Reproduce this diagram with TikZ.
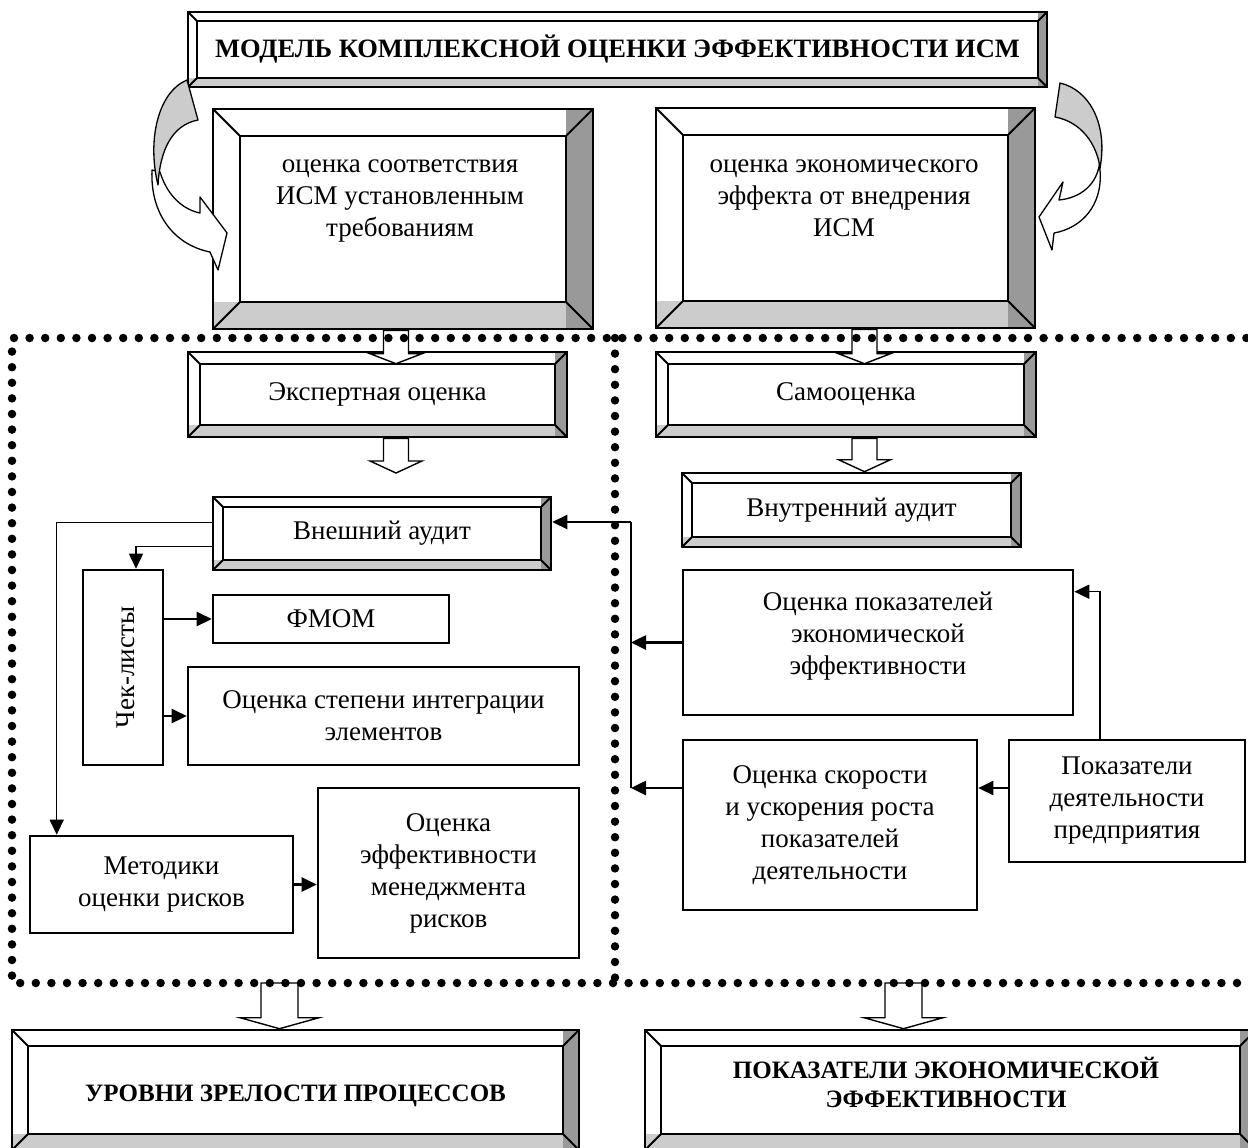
\documentclass[tikz,border=0pt]{standalone}
\usepackage{fontspec}
\setmainfont{Liberation Serif}
\usetikzlibrary{arrows.meta,calc}
\definecolor{bevlight}{HTML}{CCCCCC}
\definecolor{bevdark}{HTML}{999999}

\begin{document}
\begin{tikzpicture}[x=1pt,y=-1pt,
	bevel/.style={draw,line width=2.6pt,fill=white,inner sep=0pt,align=center,
		font={\fontsize{27}{32}\selectfont},
		path picture={
			\fill[bevlight] (path picture bounding box.south west) rectangle ([xshift=-#1,yshift=#1]path picture bounding box.south east);
			\fill[bevdark] ([xshift=-#1]path picture bounding box.north east) rectangle (path picture bounding box.south east);
			\draw[black,line width=2.6pt] ([xshift=#1,yshift=-#1]path picture bounding box.north west) rectangle ([xshift=-#1,yshift=#1]path picture bounding box.south east);
			\draw[black,line width=2pt] (path picture bounding box.north west) -- ++(#1,-#1)
				(path picture bounding box.north east) -- ++(-#1,-#1)
				(path picture bounding box.south west) -- ++(#1,#1)
				(path picture bounding box.south east) -- ++(-#1,#1);
		}},
	bevel/.default=10pt,
	simplebox/.style={draw,line width=2.6pt,fill=white,inner sep=0pt,align=center,font={\fontsize{27}{32}\selectfont}},
	bodytext/.style={inner sep=0pt,align=center,font={\fontsize{27}{32}\selectfont}},
	headtext/.style={inner sep=0pt,align=center,font={\fontsize{25}{29}\selectfont\bfseries}},
	conn/.style={line width=2.6pt,-{Triangle[length=15pt,width=14pt]}},
	route/.style={line width=1.5pt,-{Triangle[length=15pt,width=14pt]}},
	dotline/.style={line width=8.5pt,line cap=round,dash pattern=on 0pt off 15.6pt},
	curvefront/.style={draw,fill=white,line width=1.3pt,line join=round},
	curveback/.style={draw,fill=bevlight,line width=1.3pt,line join=round},
	hollowdown/.style n args={3}{draw,fill=white,line width=1.4pt,
		to path={let \p1=(\tikztostart),\p2=(\tikztotarget) in
			(\x1-#1,\y1) -- (\x1-#1,\y2+#3) -- (\x1-#2,\y2+#3) -- (\x2,\y2)
			-- (\x1+#2,\y2+#3) -- (\x1+#1,\y2+#3) -- (\x1+#1,\y1) -- cycle}}]
	\useasboundingbox (0,0) rectangle (1248,1148);

	% top level
	\node[bevel=9pt,minimum width=859,minimum height=75,font={\fontsize{26.5}{30}\selectfont\bfseries}] (title) at (617.5,49.5) {МОДЕЛЬ КОМПЛЕКСНОЙ ОЦЕНКИ ЭФФЕКТИВНОСТИ ИСМ};
	\node[bevel=27pt,minimum width=380,minimum height=220] (evalconf) at (403,219) {};
	\node[bevel=27pt,minimum width=379,minimum height=220] (evaleco) at (845.5,218) {};
	\node[bodytext,anchor=north] (evalconftxt) at (400,160) {оценка соответствия\\ИСМ установленным\\требованиям};
	\node[bodytext,anchor=north] (evalecotxt) at (844,160) {оценка экономического\\эффекта от внедрения\\ИСМ};

	% curved arrows
	\path[curvefront] (160,172) .. controls (168,198) and (185,210) .. (200,213) -- (200,197) -- (227,233) -- (218,270) -- (210,252) .. controls (175,245) and (150,215) .. (152,170) -- cycle;
	\path[curveback] (187,80) .. controls (158,92) and (147,140) .. (158,185) .. controls (160,150) and (172,125) .. (198,120) -- cycle;
	\path[curvefront] (1100,160) .. controls (1098,185) and (1080,198) .. (1059,200) -- (1063,182) -- (1039,217) -- (1052,250) -- (1054,233) .. controls (1082,228) and (1103,205) .. (1100,170) -- cycle;
	\path[curveback] (1060,83) .. controls (1090,90) and (1108,125) .. (1100,168) .. controls (1097,145) and (1082,122) .. (1055,117) -- cycle;

	% left panel
	\node[bevel=12pt,minimum width=379,minimum height=85] (expert) at (377.5,394.5) {Экспертная оценка};
	\node[bevel=10pt,minimum width=338,minimum height=73] (extaudit) at (382,533.5) {Внешний аудит};
	\node[simplebox,minimum width=80,minimum height=195] (checklist) at (123,667.5) {};
	\node[bodytext,rotate=90] (checktxt) at (126,667.5) {Чек-листы};
	\node[simplebox,minimum width=236,minimum height=48] (fmom) at (331,619) {ФМОМ};
	\node[simplebox,minimum width=391,minimum height=98] (integ) at (383.5,716) {Оценка степени интеграции\\элементов};
	\node[simplebox,minimum width=263,minimum height=97] (riskmeth) at (161.5,884.5) {Методики\\оценки рисков};
	\node[simplebox,minimum width=261,minimum height=170] (riskeff) at (448.5,873) {Оценка\\эффективности\\менеджмента\\рисков};

	% right panel
	\node[bevel=12pt,minimum width=380,minimum height=85] (selfass) at (846,394.5) {Самооценка};
	\node[bevel=10pt,minimum width=339,minimum height=74] (intaudit) at (851.5,510) {Внутренний аудит};
	\node[simplebox,minimum width=390,minimum height=145] (ecoind) at (878,642.5) {};
	\node[bodytext] (ecoindtxt) at (878,636) {Оценка показателей\\экономической\\эффективности};
	\node[simplebox,minimum width=294,minimum height=170] (growth) at (830,825) {Оценка скорости\\и ускорения роста\\показателей\\деятельности};
	\node[simplebox,minimum width=236,minimum height=122] (perf) at (1127,801) {Показатели\\деятельности\\предприятия};

	% results
	\node[bevel=16pt,minimum width=567,minimum height=120] (levels) at (295.5,1090) {};
	\node[bevel=16pt,minimum width=611,minimum height=120] (ecores) at (950.5,1090) {};
	\node[headtext] (levelstxt) at (295.5,1096) {УРОВНИ ЗРЕЛОСТИ ПРОЦЕССОВ};
	\node[headtext] (ecorestxt) at (946,1082) {ПОКАЗАТЕЛИ ЭКОНОМИЧЕСКОЙ\\ЭФФЕКТИВНОСТИ};

	\coordinate (frameNW) at (12,338);
	\coordinate (frameNE) at (1262,338);
	\coordinate (frameSW) at (12,983);
	\coordinate (frameSE) at (1262,983);
	\coordinate (midN) at (615,338);
	\coordinate (midS) at (615,983);
	\coordinate (expdown) at (396,473);
	\coordinate (busN) at (631,522);
	\coordinate (busS) at (631,788);

	% block arrows
	\draw[hollowdown={12.5pt}{26pt}{10pt}] (evalconf.south -| expdown) to ([yshift=-13pt]expert.north -| expdown);
	\draw[hollowdown={12.5pt}{26pt}{12pt}] (expert.south -| expdown) to (expdown);
	\draw[hollowdown={12.5pt}{26pt}{10pt}] ([xshift=13pt]intaudit.north |- evaleco.south) to ([xshift=13pt,yshift=-13pt]intaudit.north |- selfass.north);
	\draw[hollowdown={12.5pt}{26pt}{12pt}] ([xshift=13pt]intaudit.north |- selfass.south) to ([xshift=13pt]intaudit.north);
	\draw[hollowdown={18.5pt}{39.5pt}{11pt}] ([xshift=-16pt]levels.north |- frameSW) to ([xshift=-16pt]levels.north);
	\draw[hollowdown={18.5pt}{39.5pt}{11pt}] ([xshift=-47pt]ecores.north |- frameSW) to ([xshift=-47pt]ecores.north);

	% dotted frame
	\draw[dotline] (frameNE) -- (frameNW) -- (frameSW) -- (frameSE);
	\draw[dotline] (midN) -- (midS);

	% connectors
	\draw[route] ([yshift=11pt]extaudit.west) -| ([xshift=28pt]riskmeth.north west);
	\draw[route] ([yshift=-13pt]extaudit.west) -| ([xshift=13pt]checklist.north);
	\draw[conn] (checklist.east |- fmom.west) -- (fmom.west);
	\draw[conn] (checklist.east |- integ.west) -- (integ.west);
	\draw[conn] (riskmeth.east) -- (riskmeth.east -| riskeff.west);
	\draw[line width=1.5pt] (busS) -- (busN);
	\draw[conn] (busN) -- (busN -| extaudit.east);
	\draw[conn] (ecoind.west) -- (ecoind.west -| busN);
	\draw[conn] (growth.west |- busS) -- (busS);
	\draw[conn] (perf.west |- busS) -- (growth.east |- busS);
	\draw[route] ([xshift=-27pt]perf.north) |- ([yshift=-23pt]ecoind.north east);
\end{tikzpicture}
\end{document}
